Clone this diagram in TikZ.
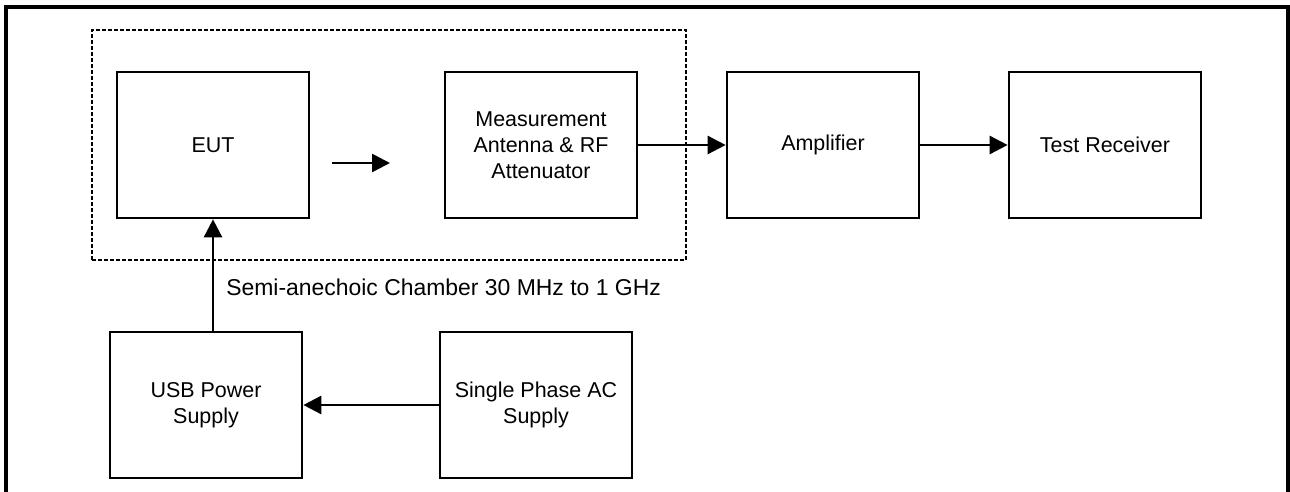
\documentclass[tikz,border=0pt]{standalone}
\usepackage{fontspec}
\setmainfont{Liberation Sans}
\usetikzlibrary{arrows.meta}
\begin{document}
\begin{tikzpicture}[x=0.75pt,y=-0.75pt,
  txt/.style={font=\fontsize{16.1}{19.5}\selectfont, align=center},
  box/.style={txt, draw, line width=2pt, minimum width=144pt, minimum height=109.5pt, inner sep=0pt},
  arr/.style={line width=2pt, -{Triangle[length=13.5pt,width=13.5pt]}},
  chamber/.style={draw, line width=1.5pt, dash pattern=on 3pt off 1.5pt, minimum width=445.5pt, minimum height=172.5pt, inner sep=0pt},
  frame/.style={line width=3pt},
  lbl/.style={font=\fontsize{17.2}{20}\selectfont, inner sep=0pt}
]
\useasboundingbox (0,0) rectangle (1290,492);
\draw[frame] (6,492) -- (6,7) -- (1288,7) -- (1288,492);
\node[chamber] (chamber) at (389,145) {};
\node[box] (eut) at (213,145) {EUT};
\node[box] (meas) at (541,145) {Measurement\\Antenna \& RF\\Attenuator};
\node[box] (amp) at (823,145) {Amplifier};
\node[box] (tr) at (1105,145) {Test Receiver};
\node[box] (usb) at (206,405) {USB Power\\Supply};
\node[box] (ac) at (536,405) {Single Phase AC\\Supply};
\node[lbl, anchor=base west] (chlabel) at (226,295) {Semi-anechoic Chamber 30 MHz to 1 GHz};
\coordinate (s1) at (332,163);
\coordinate (s2) at (390,163);
\draw[arr] (s1) -- (s2);
\draw[arr] (meas.east) -- (amp.west);
\draw[arr] (amp.east) -- (tr.west);
\draw[arr] (ac.west) -- (usb.east);
\draw[arr] (eut.south |- usb.north) -- (eut.south);
\end{tikzpicture}
\end{document}
